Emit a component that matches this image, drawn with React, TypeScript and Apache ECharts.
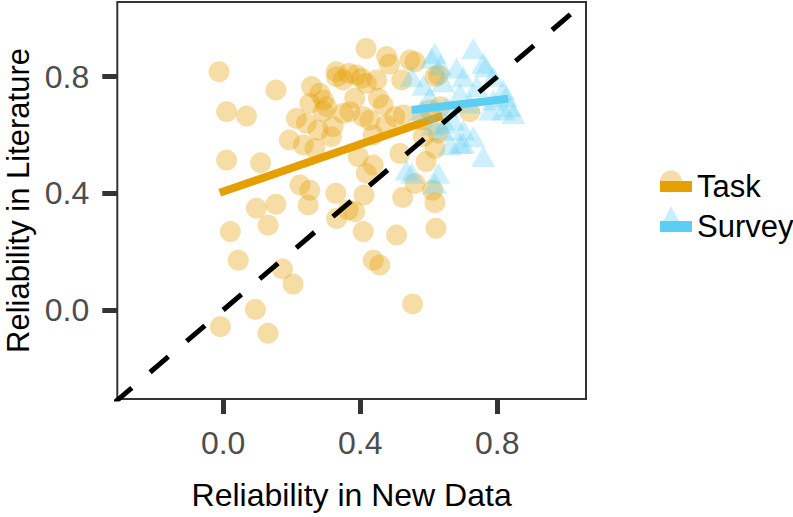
import React, { useEffect, useRef } from "react";
import * as echarts from "echarts";

// Task points [Reliability in New Data, Reliability in Literature]
const taskPoints: number[][] = [
  [-0.012, 0.817], [0.154, 0.754], [0.010, 0.680], [0.068, 0.665], [0.010, 0.514],
  [0.109, 0.505], [0.097, 0.349], [0.154, 0.363], [0.021, 0.269], [0.131, 0.291],
  [0.044, 0.171], [0.173, 0.141], [0.204, 0.089], [0.094, 0.002], [-0.008, -0.057],
  [0.131, -0.080], [0.553, 0.021], [0.438, 0.171], [0.457, 0.154], [0.409, 0.269],
  [0.506, 0.257], [0.621, 0.280], [0.618, 0.368], [0.524, 0.386], [0.611, 0.411],
  [0.560, 0.434], [0.411, 0.394], [0.384, 0.337], [0.365, 0.343], [0.331, 0.314],
  [0.329, 0.400], [0.248, 0.360], [0.253, 0.411], [0.224, 0.429], [0.438, 0.497],
  [0.418, 0.469], [0.394, 0.526], [0.516, 0.537], [0.592, 0.509], [0.618, 0.554],
  [0.193, 0.583], [0.234, 0.566], [0.268, 0.554], [0.214, 0.657], [0.243, 0.640],
  [0.277, 0.617], [0.316, 0.594], [0.253, 0.709], [0.258, 0.766], [0.282, 0.743],
  [0.302, 0.697], [0.331, 0.800], [0.350, 0.674], [0.370, 0.680], [0.350, 0.789],
  [0.389, 0.806], [0.418, 0.777], [0.384, 0.726], [0.409, 0.663], [0.428, 0.651],
  [0.453, 0.726], [0.467, 0.703], [0.438, 0.600], [0.475, 0.634], [0.501, 0.663],
  [0.526, 0.669], [0.417, 0.897], [0.477, 0.869], [0.485, 0.843], [0.545, 0.857],
  [0.560, 0.851], [0.521, 0.789], [0.628, 0.806], [0.618, 0.800], [0.603, 0.686],
  [0.633, 0.697], [0.720, 0.680], [0.584, 0.651], [0.628, 0.606], [0.584, 0.594],
  [0.321, 0.629], [0.292, 0.680], [0.293, 0.720], [0.404, 0.794], [0.448, 0.789],
  [0.330, 0.817], [0.367, 0.811],
];

// Survey points
const surveyPoints: number[][] = [
  [0.730, 0.897], [0.608, 0.863], [0.618, 0.880], [0.681, 0.829], [0.759, 0.846],
  [0.788, 0.800], [0.818, 0.754], [0.837, 0.697], [0.818, 0.686], [0.701, 0.800],
  [0.642, 0.783], [0.584, 0.771], [0.550, 0.800], [0.740, 0.766], [0.691, 0.743],
  [0.720, 0.709], [0.652, 0.697], [0.603, 0.731], [0.779, 0.686], [0.672, 0.651],
  [0.701, 0.617], [0.730, 0.594], [0.691, 0.571], [0.642, 0.617], [0.759, 0.526],
  [0.628, 0.469], [0.535, 0.480], [0.788, 0.720], [0.847, 0.674], [0.579, 0.686],
  [0.613, 0.634], [0.662, 0.566], [0.618, 0.435], [0.700, 0.572], [0.647, 0.640],
  [0.634, 0.840], [0.766, 0.834], [0.825, 0.731], [0.551, 0.469],
];

// Linear fit endpoints
const taskFit: number[][] = [[-0.01, 0.402], [0.64, 0.666]];
const surveyFit: number[][] = [[0.55, 0.686], [0.832, 0.724]];

// Identity reference line
const identityLine: number[][] = [[-0.32, -0.32], [1.07, 1.07]];

const tickValues = [0, 0.4, 0.8];
const xRange = [-0.309, 1.059];
const yRange = [-0.305, 1.056];

const ORANGE = "#E69F00";
const BLUE = "#5CCEF4";
const FONT = "Liberation Sans, Arial, sans-serif";

export default function App() {
  const ref = useRef<HTMLDivElement>(null);
  useEffect(() => {
    if (!ref.current) return;
    const chart = echarts.init(ref.current, undefined, { renderer: "svg" });
    const axisCommon = {
      nameLocation: "middle" as const,
      nameTextStyle: { fontFamily: FONT, fontSize: 32, color: "#000" },
      splitLine: { show: false },
      axisLine: { show: false, onZero: false },
    };
    const tick = {
      show: true,
      length: 15,
      lineStyle: { width: 5, color: "#333" },
      customValues: tickValues,
    };
    const label = {
      fontFamily: FONT,
      fontSize: 32,
      color: "#4D4D4D",
      margin: 28,
      customValues: tickValues,
      formatter: (v: number) => v.toFixed(1),
    };
    chart.setOption({
      animation: false,
      backgroundColor: "#fff",
      textStyle: { fontFamily: FONT },
      grid: {
        left: 117.3,
        right: 207,
        top: 2,
        bottom: 118,
        show: true,
        borderColor: "#333",
        borderWidth: 2,
        backgroundColor: "#fff",
        outerBoundsMode: "none",
        containLabel: false,
      },
      xAxis: {
        ...axisCommon,
        type: "value",
        min: xRange[0],
        max: xRange[1],
        name: "Reliability in New Data",
        nameGap: 80,
        axisTick: tick,
        axisLabel: label,
      },
      yAxis: {
        ...axisCommon,
        type: "value",
        min: yRange[0],
        max: yRange[1],
        name: "Reliability in Literature",
        nameRotate: 90,
        nameGap: 83,
        nameTextStyle: { fontFamily: FONT, fontSize: 31, color: "#000" },
        axisTick: tick,
        axisLabel: label,
      },
      legend: {
        orient: "vertical",
        left: 655,
        top: 166,
        itemWidth: 32,
        itemHeight: 11,
        itemGap: 9,
        textStyle: { fontFamily: FONT, fontSize: 31, color: "#000" },
        data: [
          { name: "Task", icon: "rect", itemStyle: { color: ORANGE, opacity: 1 } },
          { name: "Survey", icon: "rect", itemStyle: { color: BLUE, opacity: 1 } },
        ],
        selectedMode: false,
      },
      graphic: [
        {
          type: "circle",
          shape: { cx: 671, cy: 181.5, r: 11 },
          style: { fill: ORANGE, opacity: 0.35 },
          z: 0,
        },
        {
          type: "polygon",
          shape: { points: [[671, 206], [659, 229], [683, 229]] },
          style: { fill: BLUE, opacity: 0.35 },
          z: 0,
        },
      ],
      series: [
        {
          name: "Task",
          type: "scatter",
          data: taskPoints,
          symbol: "circle",
          symbolSize: 21,
          itemStyle: { color: ORANGE, opacity: 0.35 },
          z: 2,
        },
        {
          name: "Task",
          type: "line",
          data: taskFit,
          showSymbol: false,
          lineStyle: { color: ORANGE, width: 8, cap: "butt" },
          z: 3,
        },
        {
          name: "Survey",
          type: "scatter",
          data: surveyPoints,
          symbol: "triangle",
          symbolSize: [24, 21],
          itemStyle: { color: BLUE, opacity: 0.3 },
          z: 4,
        },
        {
          name: "Survey",
          type: "line",
          data: surveyFit,
          showSymbol: false,
          lineStyle: { color: BLUE, width: 8, cap: "butt" },
          z: 5,
        },
        {
          name: "identity",
          type: "line",
          data: identityLine,
          showSymbol: false,
          clip: true,
          lineStyle: { color: "#000", width: 5, type: [24, 24], cap: "butt" },
          z: 6,
        },
      ],
    });
    return () => chart.dispose();
  }, []);
  return (
    <div
      ref={ref}
      style={{ position: "fixed", left: 0, top: 0, width: 793, height: 517 }}
    />
  );
}
